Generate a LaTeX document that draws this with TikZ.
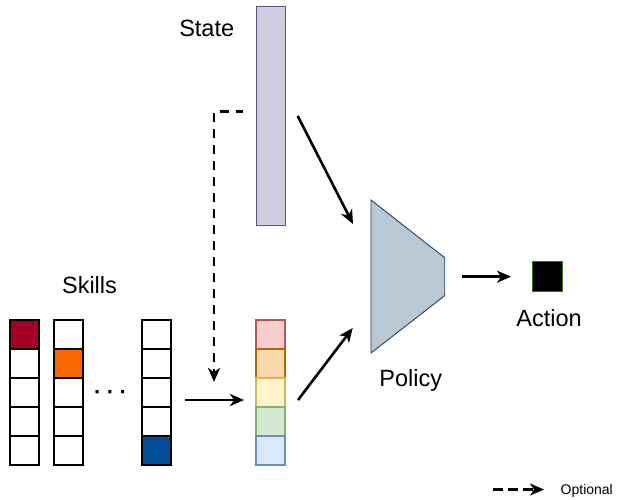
\documentclass[tikz,border=0pt]{standalone}
\usepackage{fontspec}
\setmainfont{Liberation Sans}
\usetikzlibrary{arrows.meta}
\definecolor{stfill}{HTML}{D0CEE2}\definecolor{stdraw}{HTML}{56517E}
\definecolor{pfill}{HTML}{BAC8D3}\definecolor{pdraw}{HTML}{23445D}
\definecolor{c1f}{HTML}{F8CECC}\definecolor{c1d}{HTML}{B85450}
\definecolor{c2f}{HTML}{FAD7AC}\definecolor{c2d}{HTML}{B46504}
\definecolor{c3f}{HTML}{FFF2CC}\definecolor{c3d}{HTML}{D6B656}
\definecolor{c4f}{HTML}{D5E8D4}\definecolor{c4d}{HTML}{82B366}
\definecolor{c5f}{HTML}{DAE8FC}\definecolor{c5d}{HTML}{6C8EBF}
\definecolor{redc}{HTML}{A20025}\definecolor{orac}{HTML}{FA6800}\definecolor{bluc}{HTML}{004C99}
\definecolor{actd}{HTML}{2D7600}
\begin{document}
\begin{tikzpicture}[x=1pt,y=-1pt,
  cell/.style={draw=black,line width=1.3pt,minimum width=29pt,minimum height=29pt,inner sep=0pt,outer sep=0pt},
  ecell/.style={line width=1.1pt,minimum width=29pt,minimum height=29pt,inner sep=0pt,outer sep=0pt},
  lbl/.style={font=\fontsize{23.5}{28}\selectfont,inner sep=0pt,anchor=base},
  arr/.style={line width=2.6pt,-{Stealth[length=14pt,width=12pt,inset=4pt]}},
  darr/.style={line width=2.6pt,dash pattern=on 9pt off 7pt,dash phase=2pt,-{Stealth[length=14pt,width=12pt,inset=4pt]}}]
\useasboundingbox (0,0) rectangle (628,499);
% skills columns
\foreach \c/\x in {a/24.5,b/68.5,c/156.5}{
  \foreach \r/\y in {1/334.5,2/363.5,3/392.5,4/421.5,5/450.5}{
    \node[cell,fill=white] (\c\r) at (\x,\y) {};
  }
}
\node[cell,fill=redc] at (a1) {};
\node[cell,fill=orac] at (b2) {};
\node[cell,fill=bluc] at (c5) {};
\node[font=\fontsize{22}{26}\selectfont\bfseries,inner sep=0pt,anchor=base] (dots) at (110.5,399) {·\kern5.5pt·\kern5.5pt·};
\node[lbl] (skills) at (89.5,293.3) {Skills};
% embedding column
\node[ecell,fill=c1f,draw=c1d] (e1) at (270.5,334.5) {};
\node[ecell,fill=c2f,draw=c2d] (e2) at (270.5,363.5) {};
\node[ecell,fill=c3f,draw=c3d] (e3) at (270.5,392.5) {};
\node[ecell,fill=c4f,draw=c4d] (e4) at (270.5,421.5) {};
\node[ecell,fill=c5f,draw=c5d] (e5) at (270.5,450.5) {};
% state
\node[draw=stdraw,fill=stfill,line width=1.1pt,minimum width=29.5pt,minimum height=219pt,inner sep=0pt] (state) at (271,116.2) {};
\node[lbl] (statel) at (206.7,36.7) {State};
% policy
\coordinate (p1) at (371,200);
\coordinate (p2) at (444.7,257.7);
\coordinate (p3) at (444.7,295.7);
\coordinate (p4) at (371,353);
\filldraw[fill=pfill,draw=pdraw,line width=0.9pt] (p1) -- (p2) -- (p3) -- (p4) -- cycle;
\node[lbl] (policyl) at (410.8,386.7) {Policy};
% action
\node[draw=actd,fill=black,line width=1.2pt,minimum size=30pt,inner sep=0pt] (action) at (547.5,276.5) {};
\node[lbl] (actionl) at (549,326) {Action};
% connectors
\coordinate (s2p0) at (297.7,116);
\coordinate (s2p1) at (353,224);
\coordinate (e2p0) at (298,400);
\coordinate (e2p1) at (352.7,328);
\coordinate (k2e0) at (185,400);
\coordinate (k2e1) at (244,400);
\coordinate (d0) at (243,111.7);
\coordinate (dc) at (214,111.7);
\coordinate (d1) at (214,382);
\coordinate (pa0) at (462,276.7);
\coordinate (pa1) at (511,276.7);
\draw[arr] (s2p0) -- (s2p1);
\draw[arr] (e2p0) -- (e2p1);
\draw[arr] (k2e0) -- (k2e1);
\draw[arr] (pa0) -- (pa1);
\draw[darr] (d0) -- (dc) -- (d1);
% legend
\coordinate (l0) at (493,489.5);
\coordinate (l1) at (544,489.5);
\draw[line width=2.6pt,dash pattern=on 10pt off 5pt,-{Stealth[length=14pt,width=12pt,inset=4pt]}] (l0) -- (l1);
\node[font=\fontsize{14}{17}\selectfont,inner sep=0pt,anchor=base west] (opt) at (560.5,494.5) {Optional};
\end{tikzpicture}
\end{document}
